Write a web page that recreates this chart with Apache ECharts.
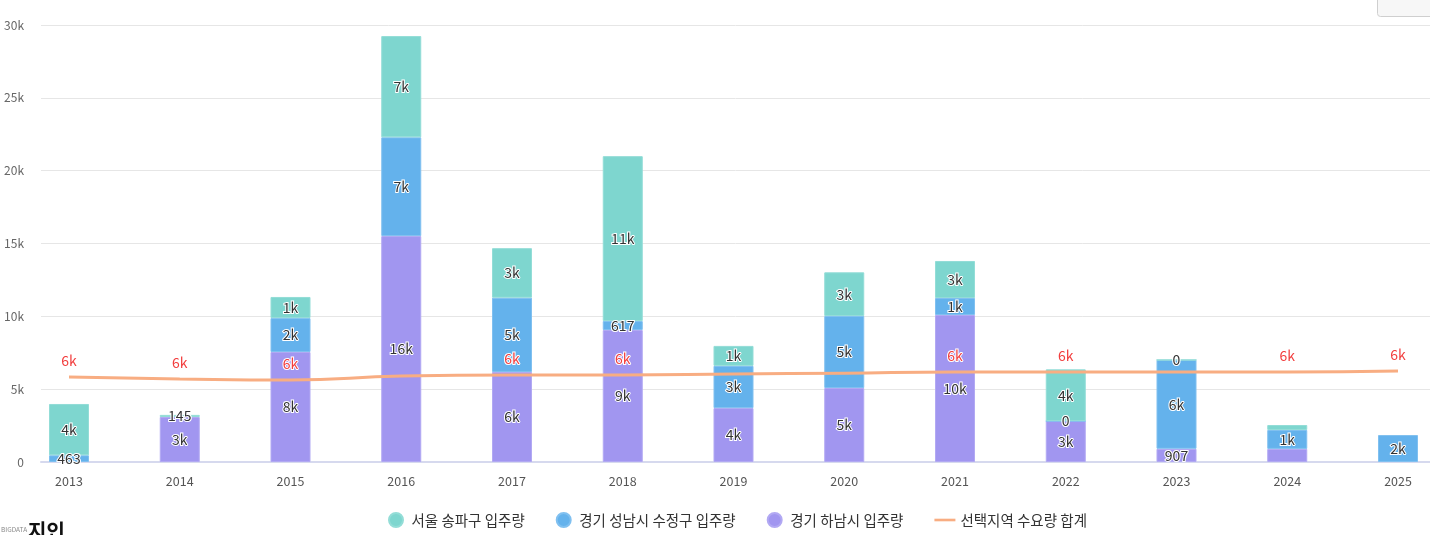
<!DOCTYPE html>
<html>
<head>
<meta charset="utf-8">
<script src="https://cdn.jsdelivr.net/npm/echarts@6/dist/echarts.min.js"></script>
<style>
html,body{margin:0;padding:0;background:#fff;}
#chart{width:1430px;height:535px;}
</style>
</head>
<body>
<div id="chart"></div>
<script>
const years = ['2013','2014','2015','2016','2017','2018','2019','2020','2021','2022','2023','2024','2025'];
const songpa = [3520, 145, 1450, 6950, 3400, 11320, 1370, 3000, 2540, 3550, 0, 340, null];
const sujeong = [463, null, 2330, 6780, 5100, 617, 2900, 4940, 1170, 0, 6100, 1300, 1850];
const hanam = [null, 3090, 7550, 15510, 6180, 9060, 3700, 5080, 10090, 2810, 907, 900, null];
const demand = [5830, 5700, 5630, 5900, 5970, 5970, 6040, 6100, 6180, 6180, 6180, 6180, 6250];
const yTicks = [0, 5000, 10000, 15000, 20000, 25000, 30000];
const names = ['서울 송파구 입주량', '경기 성남시 수정구 입주량', '경기 하남시 입주량', '선택지역 수요량 합계'];
// year indices whose label is hidden in the reference (overlapping labels)
const hiddenLabelIdx = { hanam: [11], songpa: [11] };

const FONT = '"Noto Sans CJK KR", "Noto Sans", sans-serif';
function fmt(v) {
  if (v === null || v === undefined) return '';
  return v >= 1000 ? Math.round(v / 1000) + 'k' : String(v);
}
const barLabel = {
  show: true, position: 'inside', fontFamily: FONT, fontSize: 14, color: '#333',
  textBorderColor: '#fff', textBorderWidth: 2,
  formatter: p => fmt(p.value)
};
function barSeries(name, data, color, border, hidden) {
  return {
    name, type: 'bar', stack: 'total', barWidth: 40,
    data: data.map((v, i) => hidden.includes(i) ? { value: v, label: { show: false } } : v),
    xAxisIndex: 1, yAxisIndex: 1,
    itemStyle: { color, borderColor: border, borderWidth: 1 },
    label: barLabel,
    labelLayout: { hideOverlap: true }
  };
}

const chart = echarts.init(document.getElementById('chart'));
chart.setOption({
  animation: false,
  textStyle: { fontFamily: FONT },
  grid: [
    { left: 41, right: 0, top: 25, bottom: 73 },
    { left: 69, right: 32, top: 25, bottom: 73 }
  ],
  xAxis: [
    { gridIndex: 0, type: 'value', min: 0, max: 1, axisLabel: { show: false }, axisTick: { show: false },
      splitLine: { show: false }, axisLine: { show: true, lineStyle: { color: '#d6d9ee', width: 2 } } },
    { gridIndex: 1, type: 'category', data: years, boundaryGap: false,
      axisLine: { show: false }, axisTick: { show: false },
      axisLabel: { color: '#555', fontSize: 12.5, margin: 13, fontFamily: FONT } }
  ],
  yAxis: [
    { gridIndex: 0, type: 'value', min: yTicks[0], max: yTicks[yTicks.length - 1], interval: yTicks[1] - yTicks[0],
      axisLine: { show: false }, axisTick: { show: false },
      axisLabel: { color: '#666', fontSize: 12, margin: 17, fontFamily: FONT, formatter: v => v === 0 ? '0' : (v / 1000) + 'k' },
      splitLine: { lineStyle: { color: '#e6e6e6', width: 1 } } },
    { gridIndex: 1, type: 'value', min: yTicks[0], max: yTicks[yTicks.length - 1], show: false, splitLine: { show: false } }
  ],
  legend: {
    bottom: 2, left: 383, itemGap: 31, itemWidth: 21, itemHeight: 14,
    textStyle: { color: '#333', fontSize: 14.5, fontFamily: FONT },
    data: [
      { name: names[0], icon: 'circle' },
      { name: names[1], icon: 'circle' },
      { name: names[2], icon: 'circle' },
      { name: names[3], icon: 'path://M0,0 L24,0 L24,3 L0,3 Z' }
    ]
  },
  series: [
    barSeries(names[2], hanam, '#a196f0', '#b2a9f3', hiddenLabelIdx.hanam),
    barSeries(names[1], sujeong, '#64b2ec', '#80c0f0', []),
    barSeries(names[0], songpa, '#7ed6cf', '#93ddd7', hiddenLabelIdx.songpa),
    {
      name: names[3], type: 'line', data: demand, xAxisIndex: 1, yAxisIndex: 1,
      smooth: true, showSymbol: true, symbol: 'circle', symbolSize: 0, z: 5,
      lineStyle: { color: '#f8ad82', width: 3 }, itemStyle: { color: '#f8ad82' },
      label: { show: true, position: 'top', distance: 9, color: '#f23f3f', fontSize: 14, fontFamily: FONT,
        textBorderColor: '#fff', textBorderWidth: 2, formatter: p => fmt(p.value) },
      labelLayout: { hideOverlap: true }
    }
  ],
  graphic: [
    { type: 'rect', left: 1377, top: -6, shape: { width: 70, height: 22, r: 3 },
      style: { fill: '#f7f7f7', stroke: '#cfcfcf', lineWidth: 1 } },
    { type: 'text', left: 1, top: 526, style: { text: 'BIGDATA', fill: '#888', fontSize: 6.5, fontFamily: FONT } },
    { type: 'text', left: 28, top: 521, style: { text: '지인', fill: '#111', fontSize: 20, fontWeight: 'bold', fontFamily: FONT } }
  ]
});
</script>
</body>
</html>
